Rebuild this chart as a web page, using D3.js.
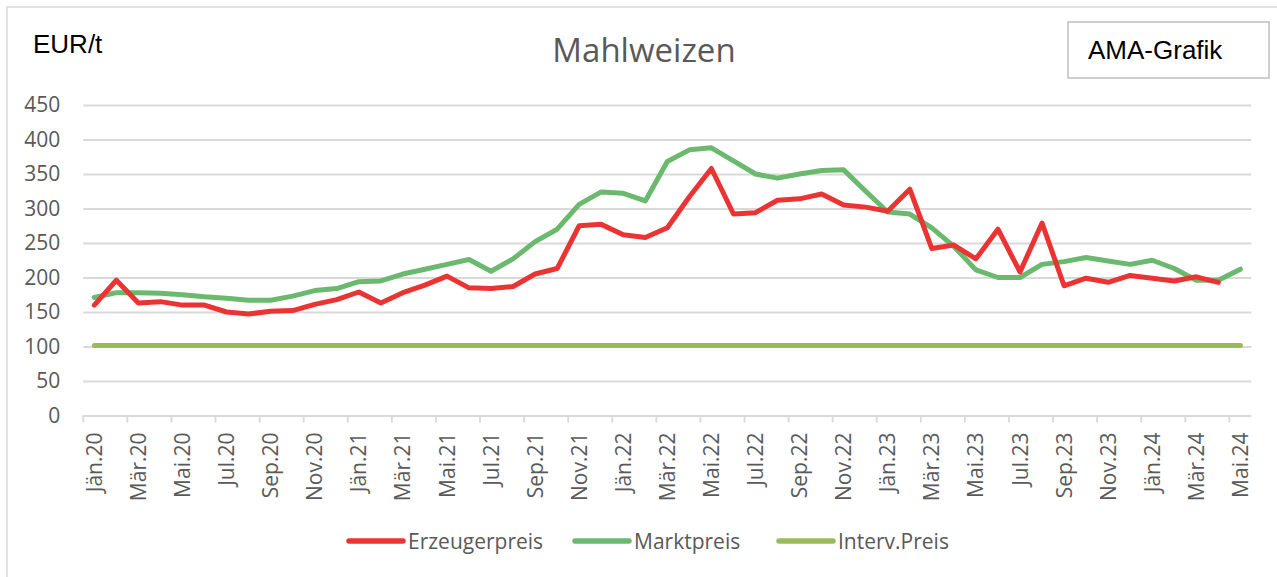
<!DOCTYPE html>
<html>
<head>
<meta charset="utf-8">
<script src="https://cdn.jsdelivr.net/npm/d3@7"></script>
<style>
    body { margin: 0; background: #fff; }
</style>
</head>
<body>
<svg id="mahlweizen-chart"></svg>
<script>
// month labels (x categories)
const months = [
    "Jän.20", "Feb.20", "Mär.20", "Apr.20", "Mai.20", "Jun.20", "Jul.20", "Aug.20", "Sep.20", "Okt.20", "Nov.20", "Dez.20",
    "Jän.21", "Feb.21", "Mär.21", "Apr.21", "Mai.21", "Jun.21", "Jul.21", "Aug.21", "Sep.21", "Okt.21", "Nov.21", "Dez.21",
    "Jän.22", "Feb.22", "Mär.22", "Apr.22", "Mai.22", "Jun.22", "Jul.22", "Aug.22", "Sep.22", "Okt.22", "Nov.22", "Dez.22",
    "Jän.23", "Feb.23", "Mär.23", "Apr.23", "Mai.23", "Jun.23", "Jul.23", "Aug.23", "Sep.23", "Okt.23", "Nov.23", "Dez.23",
    "Jän.24", "Feb.24", "Mär.24", "Apr.24", "Mai.24"
];

const erzeugerpreis = [
    160, 196, 163, 165, 160, 160, 150, 147, 151, 152, 161, 168,
    179, 163, 178, 189, 202, 185, 184, 187, 205, 213, 275, 277,
    262, 258, 272, 317, 358, 292, 294, 312, 314, 321, 305, 302,
    296, 328, 242, 247, 227, 270, 208, 279, 188, 199, 193, 203,
    199, 195, 201, 193
];

const marktpreis = [
    171, 178, 178, 177, 175, 172, 170, 167, 167, 173, 181, 184,
    194, 195, 205, 212, 219, 226, 209, 227, 252, 270, 306, 324,
    322, 311, 368, 385, 388, 369, 350, 344, 350, 355, 356, 325,
    295, 292, 272, 245, 211, 200, 200, 219, 223, 229, 224, 219,
    225, 213, 196, 196, 212
];

const intervPreis = [
    101.31, 101.31, 101.31, 101.31, 101.31, 101.31, 101.31, 101.31, 101.31, 101.31, 101.31, 101.31,
    101.31, 101.31, 101.31, 101.31, 101.31, 101.31, 101.31, 101.31, 101.31, 101.31, 101.31, 101.31,
    101.31, 101.31, 101.31, 101.31, 101.31, 101.31, 101.31, 101.31, 101.31, 101.31, 101.31, 101.31,
    101.31, 101.31, 101.31, 101.31, 101.31, 101.31, 101.31, 101.31, 101.31, 101.31, 101.31, 101.31,
    101.31, 101.31, 101.31, 101.31, 101.31
];

const yTicks = [0, 50, 100, 150, 200, 250, 300, 350, 400, 450];

const series = [
    { name: "Erzeugerpreis", values: erzeugerpreis, color: "#EA3434" },
    { name: "Marktpreis", values: marktpreis, color: "#6AB96E" },
    { name: "Interv.Preis", values: intervPreis, color: "#9BBB59" }
];

function makeChart() {
    const width = 1277;
    const height = 577;
    const svg = d3.select("#mahlweizen-chart")
        .attr("width", width).attr("height", height)
        .attr("font-family", "Open Sans, sans-serif");

    // chart area frame (right / bottom edge fall outside the picture)
    svg.append("rect")
        .attr("x", 7).attr("y", 7)
        .attr("width", 1290).attr("height", 600)
        .attr("fill", "none")
        .attr("stroke", "#D9D9D9")
        .attr("stroke-width", 1.5);

    const x = d3.scaleBand().domain(months).range([83.3, 1251.4]).padding(0);
    const y = d3.scaleLinear().domain([0, 450]).range([415.5, 105]);
    const cx = m => x(m) + x.bandwidth() / 2;

    // grid + y labels
    const yAxis = svg.append("g")
        .attr("transform", `translate(83.3,0)`)
        .call(d3.axisLeft(y).tickValues(yTicks).tickSize(-(1251.4 - 83.3)).tickPadding(23));
    yAxis.select(".domain").remove();
    yAxis.selectAll(".tick line").attr("stroke", "#D9D9D9").attr("stroke-width", 1.8);
    yAxis.selectAll(".tick text")
        .attr("fill", "#595959")
        .attr("font-size", "21px")
        .attr("font-family", "Open Sans");

    // tick marks at every second category boundary
    const everySecond = months.filter((m, i) => i % 2 === 0);
    svg.append("g").selectAll("line")
        .data(everySecond)
        .join("line")
        .attr("x1", d => x(d)).attr("x2", d => x(d))
        .attr("y1", y(0)).attr("y2", y(0) + 7)
        .attr("stroke", "#D9D9D9")
        .attr("stroke-width", 1.8);

    // x labels, rotated
    const xAxis = svg.append("g")
        .attr("transform", `translate(0,${y(0)})`)
        .call(d3.axisBottom(x).tickValues(everySecond).tickSize(0).tickPadding(0));
    xAxis.select(".domain").remove();
    xAxis.selectAll(".tick text")
        .attr("fill", "#595959")
        .attr("font-size", "21px")
        .attr("font-family", "Open Sans")
        .attr("text-anchor", "end")
        .attr("transform", "rotate(-90)")
        .attr("x", -17)
        .attr("y", 0)
        .attr("dy", "0.36em");

    // lines
    const line = d3.line()
        .x((d, i) => cx(months[i]))
        .y(d => y(d));

    // draw interv first, then market, then producer on top
    [series[2], series[1], series[0]].forEach(s => {
        svg.append("path")
            .datum(s.values)
            .attr("fill", "none")
            .attr("stroke", s.color)
            .attr("stroke-width", 5)
            .attr("stroke-linejoin", "round")
            .attr("stroke-linecap", "round")
            .attr("d", line);
    });

    // title
    svg.append("text")
        .attr("x", 644).attr("y", 62)
        .attr("text-anchor", "middle")
        .attr("font-size", "33px")
        .attr("fill", "#595959")
        .text("Mahlweizen");

    // unit
    svg.append("text")
        .attr("x", 33).attr("y", 53)
        .attr("font-family", "Liberation Sans, Arial, sans-serif")
        .attr("font-size", "26px")
        .attr("fill", "#000")
        .text("EUR/t");

    // AMA box
    svg.append("rect")
        .attr("x", 1068).attr("y", 22)
        .attr("width", 201).attr("height", 56)
        .attr("fill", "#fff")
        .attr("stroke", "#BFBFBF")
        .attr("stroke-width", 1.5);
    svg.append("text")
        .attr("x", 1088).attr("y", 59)
        .attr("font-family", "Liberation Sans, Arial, sans-serif")
        .attr("font-size", "26px")
        .attr("fill", "#000")
        .text("AMA-Grafik");

    // legend
    const legendX = [349, 575, 779];
    const legend = svg.append("g");
    series.forEach((s, i) => {
        legend.append("line")
            .attr("x1", legendX[i]).attr("x2", legendX[i] + 54)
            .attr("y1", 541).attr("y2", 541)
            .attr("stroke", s.color)
            .attr("stroke-width", 5.5)
            .attr("stroke-linecap", "round");
        legend.append("text")
            .attr("x", legendX[i] + 59).attr("y", 548.5)
            .attr("font-size", "21px")
            .attr("fill", "#595959")
            .text(s.name);
    });
}

makeChart();
</script>
</body>
</html>
